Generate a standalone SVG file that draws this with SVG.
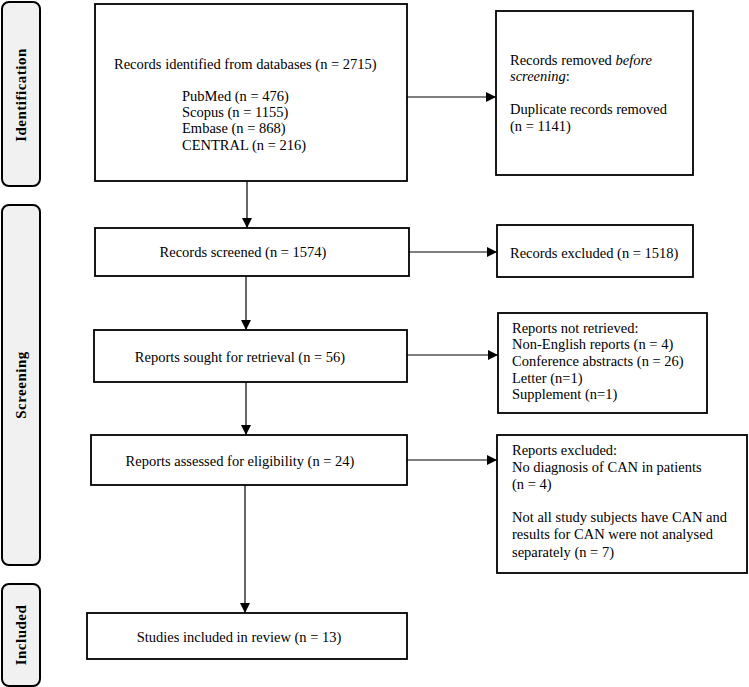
<svg xmlns="http://www.w3.org/2000/svg" width="749" height="687" viewBox="0 0 749 687">
<style>
.box{fill:#fff;stroke:#000;stroke-width:1.8}
.phase{fill:#f1f1f1;stroke:#000;stroke-width:2}
.t{font-family:"Liberation Serif","Times New Roman",serif;font-size:14.5px;fill:#000}
.p{font-family:"Liberation Serif","Times New Roman",serif;font-size:15px;font-weight:bold;letter-spacing:0.5px;fill:#000}
.c{stroke:#000;stroke-width:1.2;fill:none;marker-end:url(#ah)}
</style>
<defs>
<marker id="ah" viewBox="0 0 10 10" refX="10" refY="5" markerWidth="10" markerHeight="10" markerUnits="userSpaceOnUse" orient="auto">
<path d="M0,0 L10,5 L0,10 z" fill="#000"/>
</marker>
</defs>
<g id="phase-identification">
<rect class="phase" x="2" y="2" width="38" height="184" rx="7"/>
<text class="p" transform="translate(26,95) rotate(-90)" text-anchor="middle">Identification</text>
</g>
<g id="phase-screening">
<rect class="phase" x="2" y="205" width="38" height="360" rx="7"/>
<text class="p" transform="translate(26,385) rotate(-90)" text-anchor="middle">Screening</text>
</g>
<g id="phase-included">
<rect class="phase" x="2" y="584" width="38" height="102" rx="7"/>
<text class="p" transform="translate(26,635) rotate(-90)" text-anchor="middle">Included</text>
</g>
<g id="connectors">
<line class="c" x1="247" y1="181" x2="247" y2="228"/>
<line class="c" x1="407" y1="97" x2="496" y2="97"/>
<line class="c" x1="246" y1="276" x2="246" y2="330"/>
<line class="c" x1="409" y1="252" x2="497" y2="252"/>
<line class="c" x1="246" y1="382" x2="246" y2="435"/>
<line class="c" x1="407" y1="355" x2="498" y2="355"/>
<line class="c" x1="245" y1="485" x2="245" y2="613"/>
<line class="c" x1="407" y1="460" x2="497" y2="460"/>
</g>
<g id="records-identified">
<rect class="box" x="95" y="4" width="312" height="177"/>
<text class="t" x="114" y="69">Records identified from databases (n = 2715)</text>
<text class="t" x="182" y="101">PubMed (n = 476)</text>
<text class="t" x="182" y="117">Scopus (n = 1155)</text>
<text class="t" x="182" y="133">Embase (n = 868)</text>
<text class="t" x="182" y="150">CENTRAL (n = 216)</text>
</g>
<g id="records-removed">
<rect class="box" x="496" y="11" width="197" height="164"/>
<text class="t" x="510" y="65">Records removed <tspan font-style="italic">before</tspan></text>
<text class="t" x="510" y="81"><tspan font-style="italic">screening</tspan>:</text>
<text class="t" x="510" y="114">Duplicate records removed</text>
<text class="t" x="510" y="131">(n = 1141)</text>
</g>
<g id="records-screened">
<rect class="box" x="95" y="228" width="314" height="48"/>
<text class="t" x="243" y="257" text-anchor="middle">Records screened (n = 1574)</text>
</g>
<g id="records-excluded">
<rect class="box" x="497" y="225" width="196" height="52"/>
<text class="t" x="510" y="258">Records excluded (n = 1518)</text>
</g>
<g id="reports-sought">
<rect class="box" x="94" y="330" width="313" height="52"/>
<text class="t" x="240" y="362" text-anchor="middle">Reports sought for retrieval (n = 56)</text>
</g>
<g id="reports-not-retrieved">
<rect class="box" x="498" y="313" width="209" height="100"/>
<text class="t" x="512" y="333">Reports not retrieved:</text>
<text class="t" x="512" y="349">Non-English reports (n = 4)</text>
<text class="t" x="512" y="366">Conference abstracts (n = 26)</text>
<text class="t" x="512" y="383">Letter (n=1)</text>
<text class="t" x="512" y="399">Supplement (n=1)</text>
</g>
<g id="reports-assessed">
<rect class="box" x="91" y="435" width="316" height="50"/>
<text class="t" x="240" y="466" text-anchor="middle">Reports assessed for eligibility (n = 24)</text>
</g>
<g id="reports-excluded">
<rect class="box" x="497" y="435" width="250" height="138"/>
<text class="t" x="512" y="455">Reports excluded:</text>
<text class="t" x="512" y="472">No diagnosis of CAN in patients</text>
<text class="t" x="512" y="489">(n = 4)</text>
<text class="t" x="512" y="522">Not all study subjects have CAN and</text>
<text class="t" x="512" y="539">results for CAN were not analysed</text>
<text class="t" x="512" y="557">separately (n = 7)</text>
</g>
<g id="studies-included">
<rect class="box" x="87" y="613" width="320" height="46"/>
<text class="t" x="239" y="642" text-anchor="middle">Studies included in review (n = 13)</text>
</g>
</svg>
